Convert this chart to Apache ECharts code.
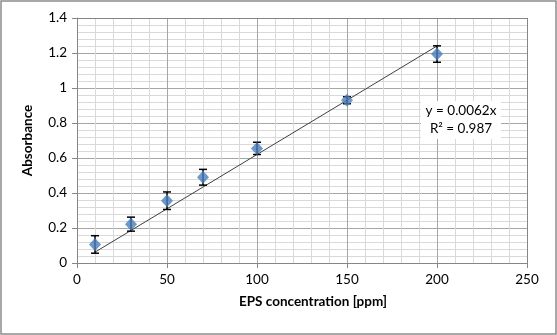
<!DOCTYPE html>
<html>
<head>
<meta charset="utf-8">
<script src="https://cdn.jsdelivr.net/npm/echarts@6/dist/echarts.min.js"></script>
<style>
  html, body { margin: 0; padding: 0; background: #fff; }
  #main { width: 557px; height: 335px; }
</style>
</head>
<body>
<div id="main"></div>
<script>
// concentration [ppm], absorbance and error (+/-)
const conc = [10, 30, 50, 70, 100, 150, 200]
const absorbance = [0.106, 0.222, 0.356, 0.49, 0.655, 0.93, 1.194]
const errors = [0.05, 0.04, 0.05, 0.045, 0.035, 0.02, 0.047]
const slope = 0.0062
const r2 = 0.987

const font = 'Lato, "Open Sans", sans-serif'
const points = conc.map((x, i) => [x, absorbance[i]])
const bars = conc.map((x, i) => [x, absorbance[i] - errors[i], absorbance[i] + errors[i]])
const trend = [conc[0], conc[conc.length - 1]].map((x) => [x, slope * x])

const myChart = echarts.init(document.getElementById('main'))
myChart.setOption({
  animation: false,
  backgroundColor: '#fff',
  grid: { left: 77, right: 30, top: 18, bottom: 72 },
  xAxis: {
    type: 'value',
    min: 0,
    max: 250,
    interval: 50,
    name: 'EPS concentration [ppm]',
    nameLocation: 'middle',
    nameGap: 32,
    nameTextStyle: { fontFamily: font, fontWeight: 'bold', fontSize: 13.5, color: '#000', padding: [0, 0, 0, 22] },
    axisLine: { show: true, lineStyle: { color: '#868686', width: 1 } },
    axisTick: { show: true, length: 5, lineStyle: { color: '#868686' } },
    axisLabel: { fontFamily: font, fontSize: 13.5, color: '#000', margin: 10 },
    splitLine: { show: true, lineStyle: { color: '#a6a6a6', width: 1 } },
    minorTick: { show: false, splitNumber: 5 },
    minorSplitLine: { show: true, lineStyle: { color: '#d9d9d9', width: 1 } },
  },
  yAxis: {
    type: 'value',
    min: 0,
    max: 1.4,
    interval: 0.2,
    name: 'Absorbance',
    nameLocation: 'middle',
    nameGap: 42,
    nameTextStyle: { fontFamily: font, fontWeight: 'bold', fontSize: 13.5, color: '#000' },
    axisLine: { show: true, lineStyle: { color: '#868686', width: 1 } },
    axisTick: { show: true, length: 5, lineStyle: { color: '#868686' } },
    axisLabel: { fontFamily: font, fontSize: 13.5, color: '#000', margin: 10 },
    splitLine: { show: true, lineStyle: { color: '#a6a6a6', width: 1 } },
    minorTick: { show: false, splitNumber: 5 },
    minorSplitLine: { show: true, lineStyle: { color: '#d9d9d9', width: 1 } },
  },
  graphic: [
    {
      type: 'rect',
      shape: { x: 1, y: 1, width: 555, height: 333 },
      style: { fill: 'none', stroke: '#8c8c8c', lineWidth: 1.5 },
      z: 100,
    },
    {
      type: 'line',
      shape: { x1: 527.5, y1: 18, x2: 527.5, y2: 263 },
      style: { stroke: '#868686', lineWidth: 1 },
      z: 5,
    },
    {
      type: 'line',
      shape: { x1: 77, y1: 18.5, x2: 528, y2: 18.5 },
      style: { stroke: '#868686', lineWidth: 1 },
      z: 5,
    },
    {
      type: 'rect',
      shape: { x: 421, y: 101, width: 80, height: 38 },
      style: { fill: '#fff' },
      z: 50,
    },
    {
      type: 'text',
      x: 461,
      y: 120,
      z: 51,
      style: {
        text: 'y = 0.0062x\nR² = ' + r2,
        fontFamily: font,
        fontSize: 13.5,
        fill: '#000',
        align: 'center',
        verticalAlign: 'middle',
        lineHeight: 18,
      },
    },
  ],
  series: [
    {
      type: 'line',
      data: trend,
      symbol: 'none',
      lineStyle: { color: '#404040', width: 1 },
      z: 3,
    },
    {
      type: 'custom',
      data: bars,
      z: 4,
      renderItem(params, api) {
        const top = api.coord([api.value(0), api.value(2)])
        const bot = api.coord([api.value(0), api.value(1)])
        const w = 4
        const st = { stroke: '#000', lineWidth: 1.5 }
        return {
          type: 'group',
          children: [
            { type: 'line', shape: { x1: top[0], y1: top[1], x2: bot[0], y2: bot[1] }, style: st },
            { type: 'line', shape: { x1: top[0] - w, y1: top[1], x2: top[0] + w, y2: top[1] }, style: st },
            { type: 'line', shape: { x1: bot[0] - w, y1: bot[1], x2: bot[0] + w, y2: bot[1] }, style: st },
          ],
        }
      },
    },
    {
      type: 'scatter',
      data: points,
      symbol: 'diamond',
      symbolSize: [12, 13],
      itemStyle: { color: '#4a7ebb' },
      z: 6,
    },
  ],
})
</script>
</body>
</html>
